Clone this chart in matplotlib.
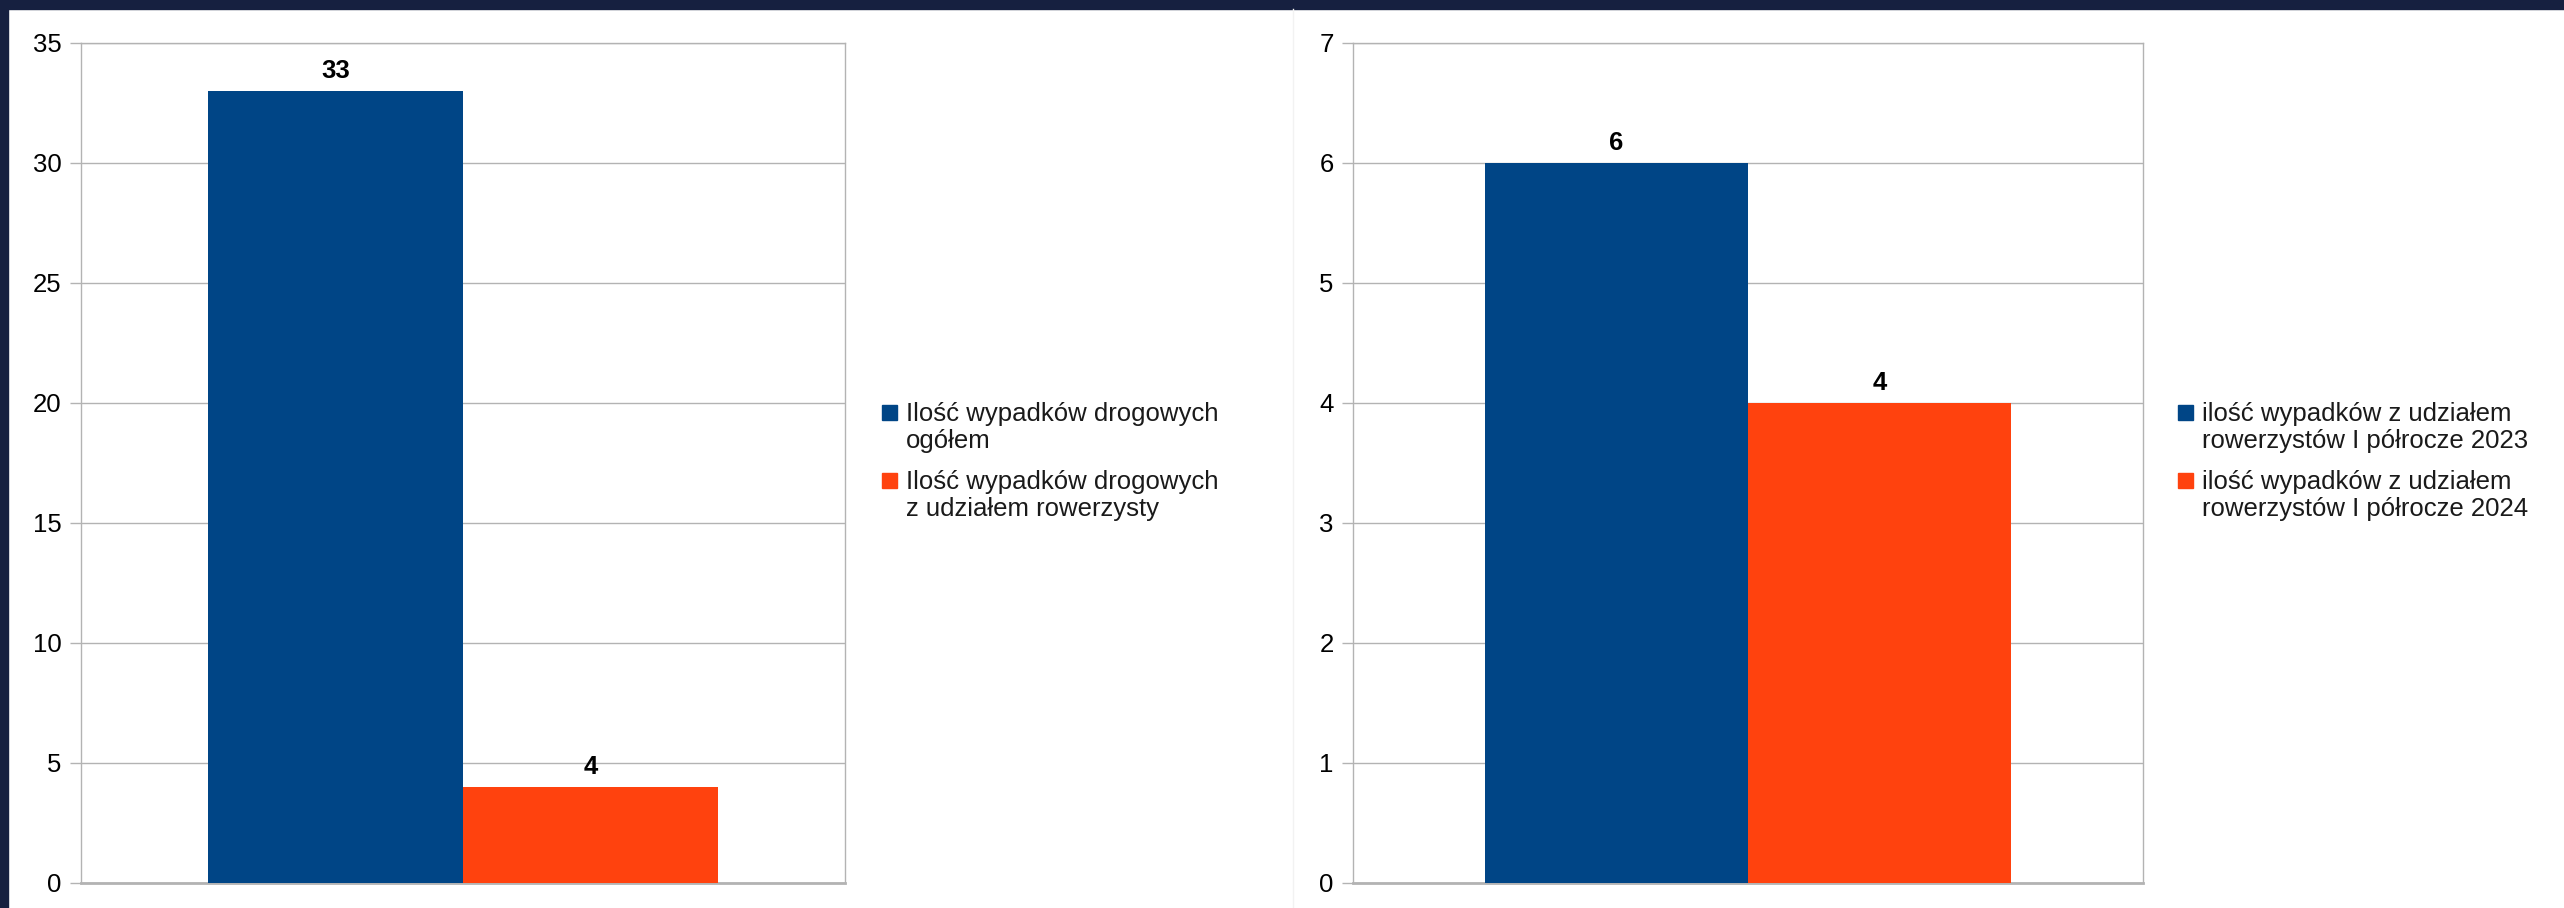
import matplotlib.pyplot as plt
from matplotlib.patches import Rectangle

plt.rcParams['font.family'] = ['Liberation Sans', 'DejaVu Sans']

# dane
left_labels = ['Ilość wypadków drogowych\nogółem',
               'Ilość wypadków drogowych\nz udziałem rowerzysty']
left_values = [33, 4]
left_ticks = [0, 5, 10, 15, 20, 25, 30, 35]

right_labels = ['ilość wypadków z udziałem\nrowerzystów I półrocze 2023',
                'ilość wypadków z udziałem\nrowerzystów I półrocze 2024']
right_values = [6, 4]
right_ticks = [0, 1, 2, 3, 4, 5, 6, 7]

colors = ['#004586', '#ff420e']
navy = '#162040'
grid_c = '#b3b3b3'

W, H = 2564, 908
fig = plt.figure(figsize=(W / 100, H / 100), dpi=100)
fig.patch.set_facecolor('white')

# ramka tła (granatowy pasek u góry i z lewej)
fig.patches.append(Rectangle((0, 1 - 9 / H), 1, 9 / H, transform=fig.transFigure,
                             color=navy, zorder=0))
fig.patches.append(Rectangle((0, 0), 8 / W, 1, transform=fig.transFigure,
                             color=navy, zorder=0))
# delikatny rozdzielacz pomiędzy wykresami
fig.add_artist(plt.Line2D([1293 / W, 1293 / W], [0, 1 - 9 / H],
                          transform=fig.transFigure, color='#f2f2f2', lw=1))

FS = 18.5


def draw(x0, x1, values, ticks, labels, leg_x):
    y0, y1 = 883, 43
    ax = fig.add_axes([x0 / W, 1 - y0 / H, (x1 - x0) / W, (y0 - y1) / H])
    bw = 1 / 3
    for i, v in enumerate(values):
        xc = -bw / 2 + i * bw
        ax.bar(xc, v, width=bw, color=colors[i], zorder=3)
        ax.annotate(str(v), (xc, v), xytext=(0, 6), textcoords='offset points',
                    ha='center', va='bottom', fontsize=FS, fontweight='bold')
    ax.set_xlim(-0.5, 0.5)
    ax.set_ylim(ticks[0], ticks[-1])
    ax.set_yticks(ticks)
    ax.set_xticks([])
    ax.grid(axis='y', color=grid_c, lw=1, zorder=0)
    for s in ['left', 'right', 'top']:
        ax.spines[s].set_color(grid_c)
        ax.spines[s].set_linewidth(1)
    ax.spines['bottom'].set_color(grid_c)
    ax.spines['bottom'].set_linewidth(2)
    ax.tick_params(axis='y', length=8, width=1, color=grid_c, pad=6,
                   labelsize=FS, labelcolor='black')

    # legenda
    top = 405
    for i, lab in enumerate(labels):
        yt = top + i * 68
        fig.patches.append(Rectangle((leg_x / W, 1 - (yt + 15) / H), 15 / W, 15 / H,
                                     transform=fig.transFigure, color=colors[i]))
        fig.text((leg_x + 24) / W, 1 - (yt - 3) / H, lab, ha='left', va='top',
                 fontsize=FS, linespacing=1.17, color='#1a1a1a')
    return ax


draw(81, 845, left_values, left_ticks, left_labels, 882)
draw(1353, 2143, right_values, right_ticks, right_labels, 2178)

fig.savefig('out.png', dpi=100, facecolor='white')
